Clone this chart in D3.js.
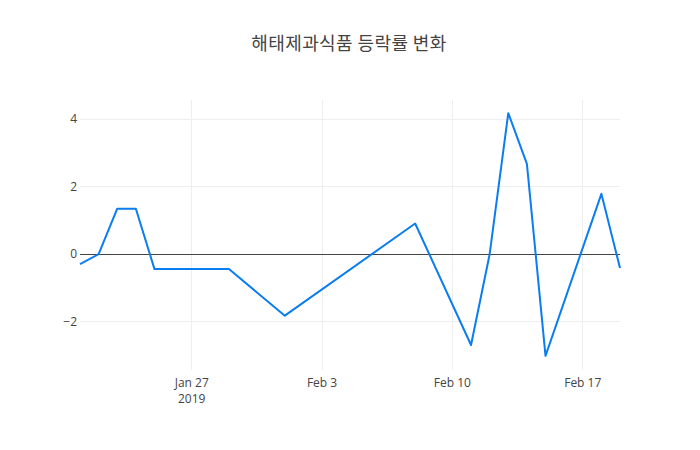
<!DOCTYPE html>
<html><head><meta charset="utf-8">
<script src="https://cdn.jsdelivr.net/npm/d3@7"></script>
<style>body{margin:0;background:#fff;} svg{display:block;font-family:"Open Sans","Noto Sans CJK KR",sans-serif;}</style>
</head><body>
<svg id="c" width="700" height="450"></svg>
<script>
const title = "해태제과식품 등락률 변화";
const dates = ["2019-01-21","2019-01-22","2019-01-23","2019-01-24","2019-01-25","2019-01-28","2019-01-29","2019-02-01","2019-02-08","2019-02-11","2019-02-12","2019-02-13","2019-02-14","2019-02-15","2019-02-18","2019-02-19"];
const values = [-0.29, 0, 1.35, 1.35, -0.44, -0.44, -0.44, -1.82, 0.91, -2.69, 0, 4.18, 2.68, -3.01, 1.79, -0.41];
const yTicks = [-2, 0, 2, 4];
const xTicks = ["2019-01-27","2019-02-03","2019-02-10","2019-02-17"];
const xTickLabels = ["Jan 27","Feb 3","Feb 10","Feb 17"];

const parse = d3.timeParse("%Y-%m-%d");
const data = dates.map((d,i)=>({date:parse(d), v:values[i]}));
const svg = d3.select("#c");
const L=80, R=620, T=100, B=370;
const x = d3.scaleTime().domain(d3.extent(data,d=>d.date)).range([L,R]);
const y = d3.scaleLinear().domain([-3.43,4.57]).range([B,T]);

// grid
const g = svg.append("g").attr("shape-rendering","crispEdges");
g.selectAll(".xg").data(xTicks).join("line")
  .attr("x1",d=>x(parse(d))).attr("x2",d=>x(parse(d))).attr("y1",T).attr("y2",B)
  .attr("stroke","#eee").attr("stroke-width",1);
g.selectAll(".yg").data(yTicks.filter(t=>t!==0)).join("line")
  .attr("x1",L).attr("x2",R).attr("y1",d=>y(d)).attr("y2",d=>y(d))
  .attr("stroke","#eee").attr("stroke-width",1);
// zero line
svg.append("line").attr("x1",L).attr("x2",R).attr("y1",y(0)).attr("y2",y(0))
  .attr("stroke","#444").attr("stroke-width",1).attr("shape-rendering","crispEdges");

// y labels
svg.selectAll(".yl").data(yTicks).join("text")
  .attr("x",L-3).attr("y",d=>y(d)).attr("dy","0.35em")
  .attr("text-anchor","end").attr("fill","#444").attr("font-size",12)
  .text(d=>d<0?"\u2212"+Math.abs(d):d);
// x labels
svg.selectAll(".xl").data(xTicks).join("text")
  .attr("x",d=>x(parse(d))).attr("y",B+13).attr("dy","0.35em")
  .attr("text-anchor","middle").attr("fill","#444").attr("font-size",12)
  .text((d,i)=>xTickLabels[i]);
svg.append("text").attr("x",x(parse(xTicks[0]))).attr("y",B+29).attr("dy","0.35em")
  .attr("text-anchor","middle").attr("fill","#444").attr("font-size",12).text("2019");

// line
svg.append("path").datum(data)
  .attr("d",d3.line().x(d=>x(d.date)).y(d=>y(d.v)))
  .attr("fill","none").attr("stroke","rgb(10,125,240)").attr("stroke-width",2)
  .attr("stroke-linejoin","round");

// title
svg.append("text").attr("x",349).attr("y",44).attr("dy","0.35em")
  .attr("text-anchor","middle").attr("fill","#444").attr("font-size",18)
  .attr("letter-spacing","0.4px")
  .attr("font-family","'Noto Sans CJK KR','Open Sans',sans-serif").text(title);
</script>
</body></html>
